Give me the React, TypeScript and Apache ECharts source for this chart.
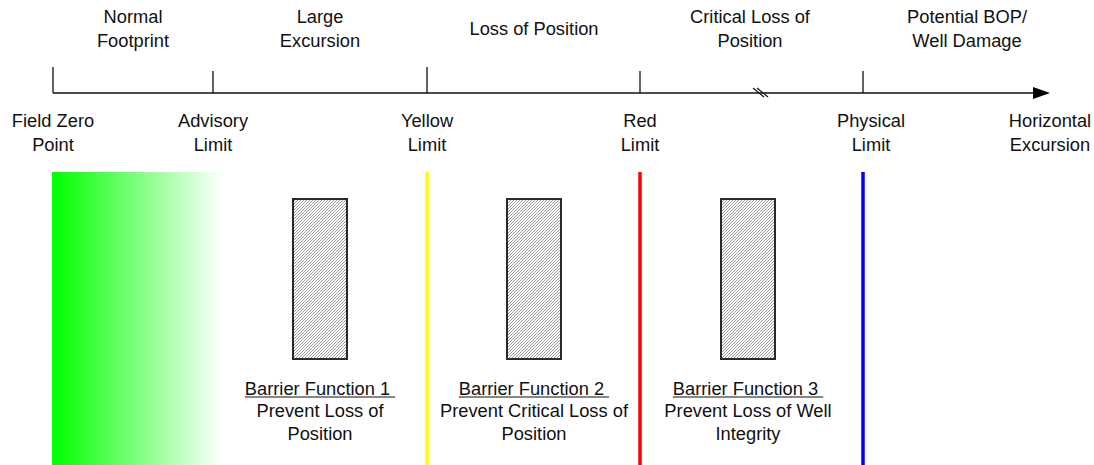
import React, { useEffect, useRef } from "react";
import * as echarts from "echarts";

// ---- Data ----
const limitNames = ["Field Zero\nPoint", "Advisory\nLimit", "Yellow\nLimit", "Red\nLimit", "Physical\nLimit"];
const limitX = [53, 213, 427, 640, 863];
const tickHeights = [26, 22, 26, 22, 22];
const zoneNames = ["Normal\nFootprint", "Large\nExcursion", "Loss of Position", "Critical Loss of\nPosition", "Potential BOP/\nWell Damage"];
const zoneCenterX = [133, 320, 534, 750, 967];
const axisEndX = 1050;
const axisEndName = "Horizontal\nExcursion";
const breakX = 760;
const normalZone = [52, 223];
const barrierTitles = ["Barrier Function 1 ", "Barrier Function 2 ", "Barrier Function 3 "];
const barrierTexts = ["Prevent Loss of\nPosition", "Prevent Critical Loss of\nPosition", "Prevent Loss of Well\nIntegrity"];
const barrierStartX = [293, 507, 721];
const barrierEndX = [347, 561, 775];
const limitLineIndex = [2, 3, 4];

const W = 1094;
const H = 465;

export default function App() {
  const ref = useRef<HTMLDivElement>(null);
  useEffect(() => {
    document.body.style.margin = "0";
    const chart = echarts.init(ref.current!, null, { renderer: "svg" });
    const FONT_FAMILY = "'Liberation Sans', Arial, Helvetica, sans-serif";
    const FS = 18.3;
    const font = `${FS}px ${FONT_FAMILY}`;
    const AXIS_Y = 93;
    const LINE_TOP = 172;
    const RECT_TOP = 199;
    const RECT_BOTTOM = 359;
    const lineColors = ["#ffff00", "#ff0000", "#0000ff"];
    const textColor = "#111";

    const mctx = document.createElement("canvas").getContext("2d")!;
    mctx.font = font;

    const pc = document.createElement("canvas");
    pc.width = 3;
    pc.height = 3;
    const g = pc.getContext("2d")!;
    g.fillStyle = "#ffffff";
    g.fillRect(0, 0, 3, 3);
    g.fillStyle = "#9a9a9a";
    g.fillRect(2, 0, 1, 1);
    g.fillRect(1, 1, 1, 1);
    g.fillRect(0, 2, 1, 1);

    const base = {
      type: "custom",
      coordinateSystem: "cartesian2d",
      silent: true,
      animation: false,
    };

    const option: any = {
      animation: false,
      grid: { left: 0, right: 0, top: 0, bottom: 0 },
      xAxis: { type: "value", min: 0, max: W, show: false },
      yAxis: { type: "value", min: 0, max: H, inverse: true, show: false },
      series: [
        // green normal zone gradient
        {
          ...base,
          data: [[normalZone[0], normalZone[1]]],
          renderItem: (params: any, api: any) => {
            const a = api.coord([api.value(0), LINE_TOP]);
            const b = api.coord([api.value(1), H]);
            return {
              type: "rect",
              shape: { x: a[0], y: a[1], width: b[0] - a[0], height: b[1] - a[1] },
              style: {
                fill: new echarts.graphic.LinearGradient(0, 0, 1, 0, [
                  { offset: 0, color: "#00ff00" },
                  { offset: 1, color: "#ffffff" },
                ]),
              },
            };
          },
        },
        // colored limit lines
        {
          ...base,
          data: limitLineIndex.map((li, i) => [limitX[li], i]),
          renderItem: (params: any, api: any) => {
            const a = api.coord([api.value(0), LINE_TOP]);
            const b = api.coord([api.value(0), H]);
            return {
              type: "line",
              shape: { x1: a[0], y1: a[1], x2: b[0], y2: b[1] },
              style: { stroke: lineColors[params.dataIndex], lineWidth: 3.5 },
            };
          },
        },
        // barrier rects
        {
          ...base,
          data: barrierStartX.map((x, i) => [x, barrierEndX[i]]),
          renderItem: (params: any, api: any) => {
            const a = api.coord([api.value(0), RECT_TOP]);
            const b = api.coord([api.value(1), RECT_BOTTOM]);
            return {
              type: "rect",
              shape: { x: a[0], y: a[1], width: b[0] - a[0], height: b[1] - a[1] },
              style: {
                fill: { image: pc, repeat: "repeat", imageWidth: 3, imageHeight: 3 },
                stroke: "#2a2a2a",
                lineWidth: 2,
              },
            };
          },
        },
        // barrier texts
        {
          ...base,
          data: barrierStartX.map((x, i) => [(x + barrierEndX[i]) / 2, i]),
          renderItem: (params: any, api: any) => {
            const i = params.dataIndex;
            const c = api.coord([api.value(0), 388]);
            const d = api.coord([api.value(0), 422]);
            const w = mctx.measureText(barrierTitles[i]).width;
            return {
              type: "group",
              children: [
                {
                  type: "text",
                  x: c[0],
                  y: c[1],
                  style: { text: barrierTitles[i], font, fill: textColor, align: "center", verticalAlign: "middle" },
                },
                {
                  type: "line",
                  shape: { x1: c[0] - w / 2, y1: c[1] + 9, x2: c[0] + w / 2, y2: c[1] + 9 },
                  style: { stroke: textColor, lineWidth: 1.2 },
                },
                {
                  type: "text",
                  x: d[0],
                  y: d[1],
                  style: { text: barrierTexts[i], font, lineHeight: 22.5, fill: textColor, align: "center", verticalAlign: "middle" },
                },
              ],
            };
          },
        },
        // main axis with arrow and break mark
        {
          ...base,
          data: [[limitX[0], axisEndX, breakX]],
          renderItem: (params: any, api: any) => {
            const a = api.coord([api.value(0), AXIS_Y]);
            const b = api.coord([api.value(1), AXIS_Y]);
            const k = api.coord([api.value(2), AXIS_Y]);
            return {
              type: "group",
              children: [
                {
                  type: "line",
                  shape: { x1: a[0], y1: a[1], x2: b[0] - 15, y2: b[1] },
                  style: { stroke: "#111", lineWidth: 1.3 },
                },
                {
                  type: "polygon",
                  shape: { points: [[b[0] - 17, b[1] - 6], [b[0], b[1]], [b[0] - 17, b[1] + 6]] },
                  style: { fill: "#000" },
                },
                {
                  type: "line",
                  shape: { x1: k[0] - 7, y1: k[1] - 5, x2: k[0] + 4, y2: k[1] + 4 },
                  style: { stroke: "#111", lineWidth: 1.2 },
                },
                {
                  type: "line",
                  shape: { x1: k[0] - 3, y1: k[1] - 5, x2: k[0] + 8, y2: k[1] + 4 },
                  style: { stroke: "#111", lineWidth: 1.2 },
                },
              ],
            };
          },
        },
        // ticks
        {
          ...base,
          data: limitX.map((x, i) => [x, tickHeights[i]]),
          renderItem: (params: any, api: any) => {
            const a = api.coord([api.value(0), AXIS_Y]);
            const b = api.coord([api.value(0), AXIS_Y - api.value(1)]);
            return {
              type: "line",
              shape: { x1: a[0], y1: a[1], x2: b[0], y2: b[1] },
              style: { stroke: "#111", lineWidth: 1.3 },
            };
          },
        },
        // limit labels
        {
          ...base,
          data: limitX.map((x, i) => [x + (i === 4 ? 8 : 0), i]),
          renderItem: (params: any, api: any) => {
            const c = api.coord([api.value(0), 132.5]);
            return {
              type: "text",
              x: c[0],
              y: c[1],
              style: { text: limitNames[params.dataIndex], font, lineHeight: 24, fill: textColor, align: "center", verticalAlign: "middle" },
            };
          },
        },
        // axis end label
        {
          ...base,
          data: [[axisEndX, 0]],
          renderItem: (params: any, api: any) => {
            const c = api.coord([api.value(0), 132.5]);
            return {
              type: "text",
              x: c[0],
              y: c[1],
              style: { text: axisEndName, font, lineHeight: 24, fill: textColor, align: "center", verticalAlign: "middle" },
            };
          },
        },
        // zone labels
        {
          ...base,
          data: zoneCenterX.map((x, i) => [x, i]),
          renderItem: (params: any, api: any) => {
            const c = api.coord([api.value(0), 28]);
            return {
              type: "text",
              x: c[0],
              y: c[1],
              style: { text: zoneNames[params.dataIndex], font, lineHeight: 24, fill: textColor, align: "center", verticalAlign: "middle" },
            };
          },
        },
      ],
    };

    chart.setOption(option);
    return () => chart.dispose();
  }, []);
  return <div ref={ref} style={{ width: W, height: H }} />;
}
